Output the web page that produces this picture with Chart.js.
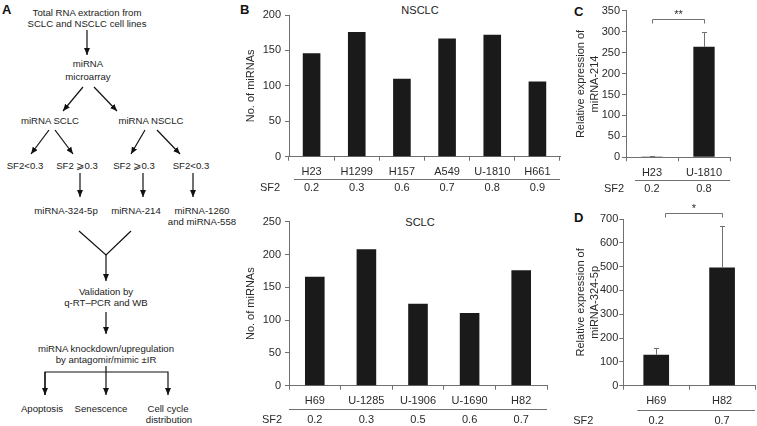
<!DOCTYPE html>
<html>
<head>
<meta charset="utf-8">
<script src="https://cdn.jsdelivr.net/npm/chart.js@4.4.1/dist/chart.umd.min.js"></script>
<style>
  html, body { margin: 0; padding: 0; background: #fff; }
  body { width: 757px; height: 426px; position: relative; overflow: hidden; font-family: 'Liberation Sans', Arial, sans-serif; }
  canvas, svg { position: absolute; }
  .panel { position: absolute; font-weight: bold; font-size: 13px; line-height: 1; color: #111; }
  .cap { position: absolute; font-size: 11px; line-height: 1; color: #222; transform: translate(-50%, -50%); }
  #flow text { font-size: 9.6px; fill: #222; text-anchor: middle; dominant-baseline: central; }
  #flow line, #flow polyline { stroke: #111; stroke-width: 1.2; fill: none; }
</style>
</head>
<body>

<!-- panel A: workflow -->
<svg id="flow" width="240" height="426" style="left:0;top:0">
  <defs>
    <marker id="ah" viewBox="0 0 7 6" refX="7" refY="3" markerWidth="7" markerHeight="6" orient="auto" markerUnits="userSpaceOnUse">
      <path d="M0,0 L7,3 L0,6 z" fill="#111"/>
    </marker>
  </defs>
  <text x="87" y="12">Total RNA extraction from</text>
  <text x="87" y="23">SCLC and NSCLC cell lines</text>
  <line x1="87" y1="30" x2="87" y2="55" marker-end="url(#ah)"/>
  <text x="88" y="63">miRNA</text>
  <text x="88" y="76">microarray</text>
  <line x1="83" y1="87" x2="63" y2="111" marker-end="url(#ah)"/>
  <line x1="94" y1="87" x2="117" y2="111" marker-end="url(#ah)"/>
  <text x="50" y="120">miRNA SCLC</text>
  <text x="151" y="120">miRNA NSCLC</text>
  <line x1="49" y1="130" x2="31" y2="154" marker-end="url(#ah)"/>
  <line x1="55" y1="130" x2="73" y2="154" marker-end="url(#ah)"/>
  <line x1="145" y1="130" x2="131" y2="154" marker-end="url(#ah)"/>
  <line x1="157" y1="130" x2="180" y2="154" marker-end="url(#ah)"/>
  <text x="25" y="165">SF2&lt;0.3</text>
  <text x="77" y="165">SF2 ⩾0.3</text>
  <text x="134" y="165">SF2 ⩾0.3</text>
  <text x="191" y="165">SF2&lt;0.3</text>
  <line x1="80" y1="173" x2="80" y2="197" marker-end="url(#ah)"/>
  <line x1="143" y1="173" x2="143" y2="197" marker-end="url(#ah)"/>
  <line x1="193" y1="173" x2="193" y2="197" marker-end="url(#ah)"/>
  <text x="66" y="210">miRNA-324-5p</text>
  <text x="136" y="210">miRNA-214</text>
  <text x="202" y="210">miRNA-1260</text>
  <text x="202" y="221">and miRNA-558</text>
  <polyline points="79,231 106,255 131,231"/>
  <line x1="106" y1="255" x2="106" y2="281" marker-end="url(#ah)"/>
  <text x="106" y="291">Validation by</text>
  <text x="106" y="302">q-RT–PCR and WB</text>
  <line x1="106" y1="312" x2="106" y2="334" marker-end="url(#ah)"/>
  <text x="106" y="348">miRNA knockdown/upregulation</text>
  <text x="106" y="359">by antagomir/mimic ±IR</text>
  <polyline points="45,395 45,372 168,372 168,395" marker-end="url(#ah)"/>
  <line x1="45" y1="372" x2="45" y2="395" marker-end="url(#ah)"/>
  <line x1="106" y1="366" x2="106" y2="395" marker-end="url(#ah)"/>
  <text x="42" y="408">Apoptosis</text>
  <text x="101" y="408">Senescence</text>
  <text x="168" y="408">Cell cycle</text>
  <text x="169" y="419">distribution</text>
</svg>
<div class="panel" style="left:2px;top:3px">A</div>

<div class="panel" style="left:240px;top:3px">B</div>
<div class="panel" style="left:574px;top:5px">C</div>
<div class="panel" style="left:574px;top:211px">D</div>
<div class="cap" style="left:420px;top:10px">NSCLC</div>
<div class="cap" style="left:420px;top:222px">SCLC</div>

<canvas id="nsclc" width="322" height="200" style="left:240px;top:0"></canvas>
<canvas id="sclc" width="310" height="226" style="left:240px;top:200px"></canvas>
<canvas id="mir214" width="191" height="200" style="left:566px;top:0"></canvas>
<canvas id="mir324" width="191" height="226" style="left:566px;top:200px"></canvas>

<script>
// B: miRNA counts per cell line
const nsclcLines = ['H23', 'H1299', 'H157', 'A549', 'U-1810', 'H661'];
const nsclcMirnas = [146, 176, 110, 167, 172, 106];
const nsclcSf2 = ['0.2', '0.3', '0.6', '0.7', '0.8', '0.9'];

const sclcLines = ['H69', 'U-1285', 'U-1906', 'U-1690', 'H82'];
const sclcMirnas = [166, 208, 125, 111, 176];
const sclcSf2 = ['0.2', '0.3', '0.5', '0.6', '0.7'];

// C: miRNA-214
const mir214Lines = ['H23', 'U-1810'];
const mir214Expr = [2, 264];
const mir214Err = [1.5, 36];
const mir214Sf2 = ['0.2', '0.8'];

// D: miRNA-324-5p
const mir324Lines = ['H69', 'H82'];
const mir324Expr = [130, 496];
const mir324Err = [27, 175];
const mir324Sf2 = ['0.2', '0.7'];

// y axis ranges
const nsclcTicks = { max: 200, step: 50 };
const sclcTicks = { max: 250, step: 50 };
const mir214Ticks = { max: 350, step: 50 };
const mir324Ticks = { max: 700, step: 100 };

const axisColor = '#707070';
const textColor = '#2a2a2a';
const barColor = '#1a1a1a';

Chart.defaults.font.family = "'Liberation Sans', Arial, sans-serif";
Chart.defaults.font.size = 11;
Chart.defaults.color = textColor;
Chart.defaults.animation = false;

// SF2 row under the cell line names
const sf2Row = {
    id: 'sf2row',
    afterDraw(chart, args, o) {
        const { ctx, chartArea: a, scales: { x } } = chart;
        const ly = Math.round(a.bottom + o.lineDy) + 0.5;
        ctx.save();
        ctx.strokeStyle = axisColor;
        ctx.lineWidth = 1;
        ctx.beginPath();
        ctx.moveTo(a.left + o.lineStart, ly);
        ctx.lineTo(a.right, ly);
        ctx.stroke();
        ctx.fillStyle = textColor;
        ctx.font = "11px 'Liberation Sans', Arial, sans-serif";
        ctx.textAlign = 'center';
        ctx.textBaseline = 'middle';
        const vy = a.bottom + o.valDy;
        ctx.fillText('SF2', a.left + o.nameDx, vy);
        o.values.forEach((v, i) => ctx.fillText(v, x.getPixelForValue(i), vy));
        ctx.restore();
    }
};

// one-sided error bars
const errorBars = {
    id: 'errorbars',
    afterDatasetsDraw(chart) {
        const ds = chart.data.datasets[0];
        if (!ds.errors) return;
        const { ctx, scales: { y } } = chart;
        const meta = chart.getDatasetMeta(0);
        ctx.save();
        ctx.strokeStyle = axisColor;
        ctx.lineWidth = 1;
        meta.data.forEach((bar, i) => {
            const cx = Math.round(bar.x) + 0.5;
            const top = Math.round(y.getPixelForValue(ds.data[i] + ds.errors[i])) + 0.5;
            ctx.beginPath();
            ctx.moveTo(cx, bar.y);
            ctx.lineTo(cx, top);
            ctx.moveTo(cx - 2.5, top);
            ctx.lineTo(cx + 2.5, top);
            ctx.stroke();
        });
        ctx.restore();
    }
};

// significance bracket
const bracket = {
    id: 'bracket',
    afterDraw(chart, args, o) {
        if (!o || !o.text) return;
        const { ctx, scales: { x, y } } = chart;
        const x1 = Math.round(x.getPixelForValue(o.from) + (o.shift || 0)) + 0.5;
        const x2 = Math.round(x.getPixelForValue(o.to)) + 0.5;
        const by = Math.round(y.getPixelForValue(o.level)) + 0.5;
        ctx.save();
        ctx.strokeStyle = axisColor;
        ctx.lineWidth = 1;
        ctx.beginPath();
        ctx.moveTo(x1, by + 4);
        ctx.lineTo(x1, by);
        ctx.lineTo(x2, by);
        ctx.lineTo(x2, by + 4);
        ctx.stroke();
        ctx.fillStyle = textColor;
        ctx.font = "11px 'Liberation Sans', Arial, sans-serif";
        ctx.textAlign = 'center';
        ctx.textBaseline = 'middle';
        ctx.fillText(o.text, (x1 + x2) / 2, by - 5);
        ctx.restore();
    }
};

function barChart(id, labels, values, o) {
    return new Chart(document.getElementById(id), {
        type: 'bar',
        data: {
            labels: labels,
            datasets: [{
                data: values,
                errors: o.errors,
                backgroundColor: barColor,
                barPercentage: o.barPct,
                categoryPercentage: 1
            }]
        },
        options: {
            responsive: false,
            layout: { padding: o.pad },
            plugins: {
                legend: { display: false },
                tooltip: { enabled: false },
                sf2row: o.sf2,
                bracket: o.bracket || {}
            },
            scales: {
                x: {
                    grid: { offset: true, drawOnChartArea: false, tickLength: 4, color: axisColor },
                    border: { color: axisColor },
                    ticks: { padding: 5, maxRotation: 0, autoSkip: false, color: textColor },
                    afterFit: s => { s.height = o.xh; }
                },
                y: {
                    min: 0,
                    max: o.ticks.max,
                    grid: { drawOnChartArea: false, tickLength: 4, color: axisColor },
                    border: { color: axisColor },
                    ticks: { stepSize: o.ticks.step, padding: o.tickPad, color: textColor },
                    title: {
                        display: true,
                        text: o.title,
                        color: textColor,
                        padding: 0,
                        font: { size: 11, lineHeight: 1.25 }
                    },
                    afterFit: s => { s.width = o.yw; }
                }
            }
        },
        plugins: [sf2Row, errorBars, bracket]
    });
}

barChart('nsclc', nsclcLines, nsclcMirnas, {
    ticks: nsclcTicks, title: 'No. of miRNAs', barPct: 0.39,
    pad: { left: 4, right: 2, top: 15, bottom: 0 }, yw: 45, xh: 43.3, tickPad: 4,
    sf2: { values: nsclcSf2, lineDy: 22.5, valDy: 31.5, lineStart: 5, nameDx: -19 }
});

barChart('sclc', sclcLines, sclcMirnas, {
    ticks: sclcTicks, title: 'No. of miRNAs', barPct: 0.38,
    pad: { left: 4, right: 3, top: 21.7, bottom: 0 }, yw: 45, xh: 40.3, tickPad: 4,
    sf2: { values: sclcSf2, lineDy: 23.6, valDy: 34.3, lineStart: 0, nameDx: -17 }
});

barChart('mir214', mir214Lines, mir214Expr, {
    ticks: mir214Ticks, title: ['Relative expression of', 'miRNA-214'], barPct: 0.41,
    errors: mir214Err,
    pad: { left: 8, right: 27, top: 10.7, bottom: 0 }, yw: 52, xh: 42.7, tickPad: 2,
    sf2: { values: mir214Sf2, lineDy: 22.7, valDy: 32, lineStart: 9, nameDx: -12 },
    bracket: { from: 0, to: 1, level: 329, text: '**' }
});

barChart('mir324', mir324Lines, mir324Expr, {
    ticks: mir324Ticks, title: ['Relative expression of', 'miRNA-324-5p'], barPct: 0.39,
    errors: mir324Err,
    pad: { left: 8, right: 2, top: 19, bottom: 0 }, yw: 49.3, xh: 40.3, tickPad: 1,
    sf2: { values: mir324Sf2, lineDy: 24.3, valDy: 35.3, lineStart: 14, nameDx: -40 },
    bracket: { from: 0, to: 1, level: 724, text: '*', shift: 9 }
});
</script>
</body>
</html>
